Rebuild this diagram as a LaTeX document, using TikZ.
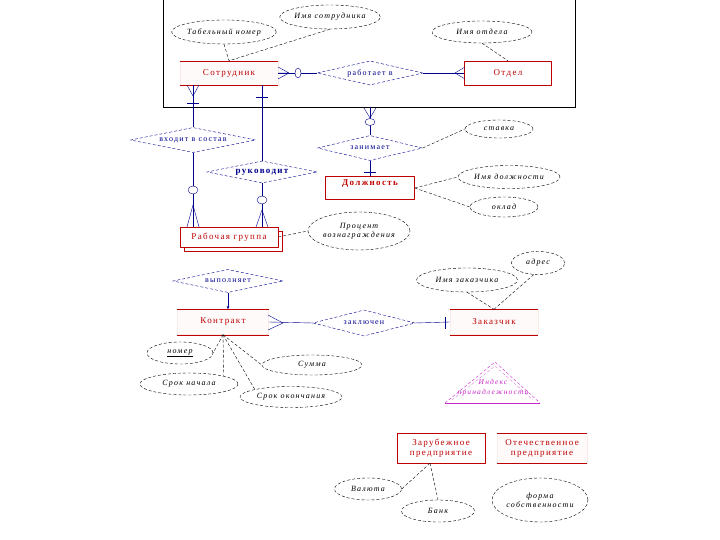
\documentclass[tikz,border=0pt]{standalone}
\usepackage{fontspec}
\setmainfont{Liberation Serif}
\newfontfamily\spaced[LetterSpace=15]{Liberation Serif}
\usetikzlibrary{shapes.geometric,shadows,arrows.meta}
\definecolor{entred}{RGB}{190,0,0}
\definecolor{relblue}{RGB}{0,0,140}
\definecolor{grpmag}{RGB}{200,40,200}
\tikzset{
  entity/.style={rectangle, draw=entred, text=entred, inner sep=0pt, align=center,
    font=\spaced\fontsize{9}{10}\selectfont},
  entopen/.style={entity, draw=entred!8, fill=entred!2},
  relation/.style={diamond, aspect=6, draw=relblue, densely dashed, text=relblue, inner sep=0pt,
    font=\spaced\fontsize{8}{9}\selectfont},
  attr/.style={ellipse, draw=black, densely dashed, inner sep=0pt, align=center,
    font=\spaced\itshape\fontsize{8}{9}\selectfont},
  attrline/.style={densely dashed, thin},
  relline/.style={relblue, thin},
  entline/.style={entred, thin},
}
\begin{document}
\begin{tikzpicture}[x=1pt,y=-1pt]
  \useasboundingbox (0,0) rectangle (720,540);

  % рамка
  \draw[thin] (163,-2) -- (163,107) -- (575,107) -- (575,-2);
  \coordinate (frameS) at (370,107);

  % сущности
  \node[entopen, minimum width=98pt, minimum height=24pt] (sotr) at (229,73) {Сотрудник};
  \node[entity, minimum width=87pt, minimum height=24pt] (otdel) at (508,73) {Отдел};
  \node[entity, minimum width=89pt, minimum height=23pt, text depth=11pt, inner ysep=2pt,
    font=\spaced\bfseries\fontsize{9}{10}\selectfont] (dolzh) at (370,188) {Должность};
  \node[entity, minimum width=98pt, minimum height=20pt, fill=white,
    copy shadow={shadow xshift=4pt, shadow yshift=-4pt}] (grp) at (229,237) {Рабочая группа};
  \node[entopen, minimum width=91pt, minimum height=25pt] (kontr) at (223,322) {Контракт};
  \node[entopen, minimum width=88pt, minimum height=25pt] (zak) at (494,322) {Заказчик};
  \node[entity, minimum width=88pt, minimum height=30pt] (zar) at (441,448)
    {Зарубежное\\предприятие};
  \node[entopen, minimum width=90pt, minimum height=30pt] (otech) at (542,448)
    {Отечественное\\предприятие};
  \foreach \e in {sotr,kontr,zak,otech}{
    \draw[entline] (\e.north west) -- (\e.north east);
    \draw[entline] (\e.south west) -- (\e.south east);
  }

  % связи
  \node[relation, minimum width=106pt, minimum height=24pt] (works) at (370,73) {работает в};
  \node[relation, minimum width=125pt, minimum height=25pt] (sostav) at (193,140) {входит в состав};
  \node[relation, minimum width=110pt, minimum height=22pt,
    font=\spaced\bfseries\fontsize{9}{10}\selectfont] (ruk) at (262,172) {руководит};
  \node[relation, minimum width=105pt, minimum height=25pt] (zan) at (370,148) {занимает};
  \node[relation, minimum width=110pt, minimum height=23pt] (vyp) at (228,281) {выполняет};
  \node[relation, minimum width=102pt, minimum height=26pt] (zakl) at (364,323) {заключен};

  % атрибуты
  \node[attr, minimum width=100pt, minimum height=24pt] (tabnum) at (224,32) {Табельный номер};
  \node[attr, minimum width=95pt, minimum height=24pt] (imyasotr) at (330,17) {Имя сотрудника};
  \node[attr, minimum width=100pt, minimum height=22pt] (imyaotd) at (482,32) {Имя отдела};
  \node[attr, minimum width=68pt, minimum height=18pt] (stavka) at (499,129) {ставка};
  \node[attr, minimum width=102pt, minimum height=23pt] (imyadol) at (509,177) {Имя должности};
  \node[attr, minimum width=68pt, minimum height=20pt] (oklad) at (504,207) {оклад};
  \node[attr, minimum width=102pt, minimum height=38pt] (proc) at (359,231) {Процент\\вознаграждения};
  \node[attr, minimum width=53pt, minimum height=23pt] (adres) at (538,263) {адрес};
  \node[attr, minimum width=101pt, minimum height=24pt] (imyazak) at (467,280) {Имя заказчика};
  \node[attr, minimum width=66pt, minimum height=22pt] (nomer) at (180,353) {\underline{номер}};
  \node[attr, minimum width=98pt, minimum height=22pt] (nach) at (189,384) {Срок начала};
  \node[attr, minimum width=100pt, minimum height=20pt] (summa) at (312,365) {Сумма};
  \node[attr, minimum width=102pt, minimum height=21pt] (okon) at (291,397) {Срок окончания};
  \node[attr, minimum width=67pt, minimum height=22pt] (valuta) at (368,489) {Валюта};
  \node[attr, minimum width=73pt, minimum height=22pt] (bank) at (438,511) {Банк};
  \node[attr, minimum width=96pt, minimum height=44pt] (forma) at (540,500) {форма\\собственности};

  % линии атрибутов
  \draw[attrline] (tabnum.south) -- (sotr.north);
  \draw[attrline] (imyasotr.south) -- (sotr.north);
  \draw[attrline] (imyaotd.south) -- (otdel.north);
  \draw[attrline] (zan.east) -- (stavka.west);
  \draw[attrline] (dolzh.east) -- (imyadol.west);
  \draw[attrline] (dolzh.east) -- (oklad.west);
  \draw[attrline] (grp.east) -- (proc.west);
  \draw[attrline] (imyazak.south) -- (zak.north);
  \draw[attrline] (adres.250) -- (zak.north);
  \draw[attrline] (kontr.south) -- (nomer.east);
  \draw[attrline] (kontr.south) -- (nach.north east);
  \draw[attrline] (kontr.south) -- (okon.north west);
  \draw[attrline] (kontr.south) -- (summa.west);
  \coordinate (zarbot) at ([xshift=-11pt]zar.south);
  \draw[attrline] (zarbot) -- (valuta.east);
  \draw[attrline] (zarbot) -- (bank.north);

  % линии связей
  \draw[relline] (sotr.east) -- (works.west);
  \draw[relline] (works.east) -- (otdel.west);
  \draw[relline] (sotr.south -| sostav.north) -- (sostav.north);
  \draw[relline] (sostav.south) -- (grp.north -| sostav.south);
  \draw[relline] (sotr.south -| ruk.north) -- (ruk.north);
  \draw[relline] (ruk.south) -- (grp.north -| ruk.south);
  \draw[relline] (frameS) -- (zan.north);
  \draw[relline] (zan.south) -- (dolzh.north);
  \draw[relline, -{Latex[length=3pt,width=3pt]}] (vyp.south) -- (vyp.south |- kontr.north);
  \draw[relline] (kontr.east) -- (zakl.west);
  \draw[relline] (zakl.east) -- (zak.west);

  % кратности
  \draw[relline] (278,67) -- (289,73) -- (278,79) (278,73) -- (289,73);
  \draw[relline, fill=white] (298,73) ellipse (3 and 5);
  \draw[relline] (465,67) -- (455,73) -- (465,79);
  \draw[relline] (187,85) -- (193,96) -- (199,85);
  \draw[relline] (187,103) -- (199,103);
  \draw[relline] (256,97) -- (268,97);
  \draw[relline] (187,227) -- (193,205) -- (199,227);
  \draw[relline, fill=white] (193,190) ellipse (5 and 4);
  \draw[relline] (256,227) -- (262,210) -- (268,227);
  \draw[relline, fill=white] (262,200) ellipse (5 and 4);
  \draw[relline] (364,108) -- (370,118) -- (376,108);
  \draw[relline, fill=white] (370,122) ellipse (5 and 3.5);
  \draw[relline] (364,172) -- (376,172);
  \draw[relline] (268,315) -- (283,323) -- (268,330);
  \draw[relline] (445,317) -- (445,329);

  % треугольник
  \coordinate (triA) at (495,362);
  \coordinate (triB) at (445,403);
  \coordinate (triC) at (540,403);
  \draw[grpmag, densely dashed] (triB) -- (triA) -- (triC);
  \draw[grpmag!60, densely dashed] (452,400) -- (495,366) -- (533,400);
  \draw[grpmag] (triB) -- (triC);
  \node[text=grpmag, align=center, font=\spaced\itshape\fontsize{7.5}{10}\selectfont]
    (priz) at (493,388) {Индекс\\принадлежности};
\end{tikzpicture}
\end{document}
